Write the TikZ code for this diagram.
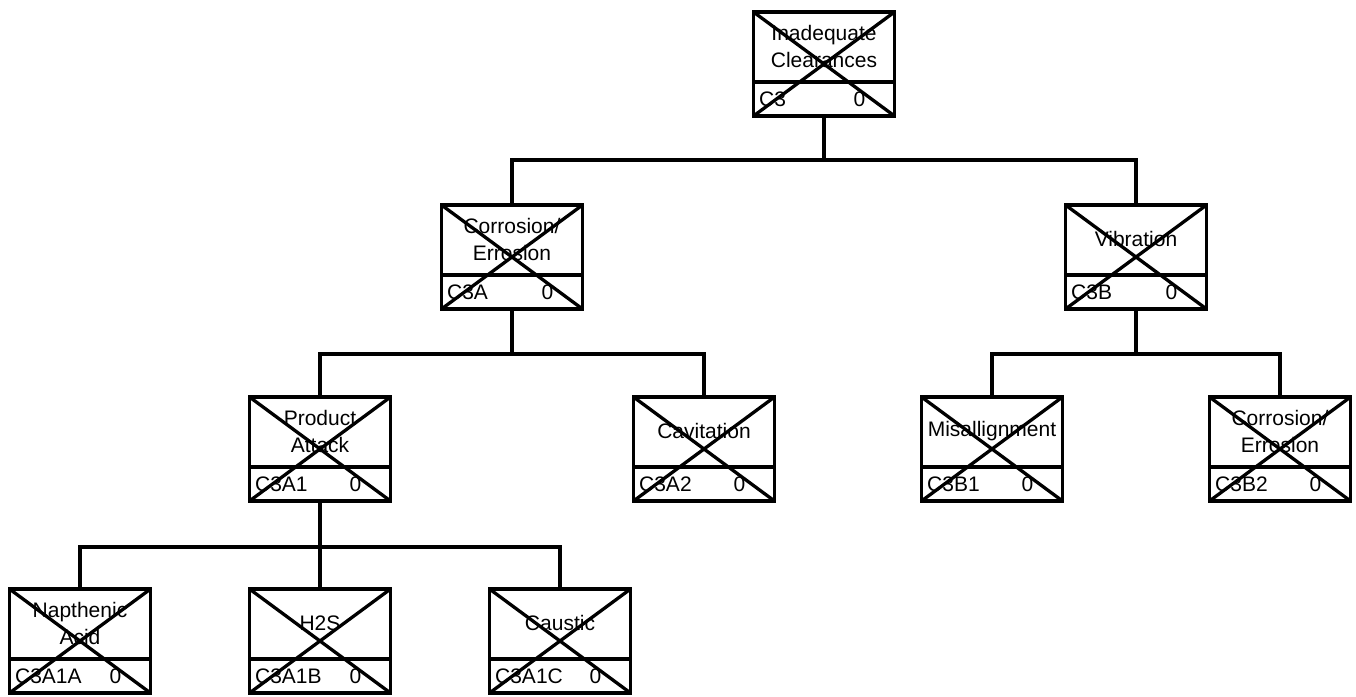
\documentclass[tikz,border=0pt]{standalone}
\usepackage{fontspec}
\setmainfont{Liberation Sans}

\begin{document}
\begin{tikzpicture}[
      x=1pt,
      y=-1pt,
      line width=3.3pt,
      eventbox/.style = {draw, rectangle, line width=3.8pt, outer sep=0pt,
          minimum width=141pt, minimum height=104pt, inner sep=0pt},
      title/.style = {align=center, inner sep=1pt,
          font=\fontsize{21}{27}\selectfont},
      code/.style = {inner sep=2pt, font=\fontsize{21}{26}\selectfont}
    ]
    \useasboundingbox (0,0) rectangle (1356,696);

    % boxes: name / x / y / title / code
    \foreach \n/\x/\y/\t/\c in {
        c3/824/64/{Inadequate\\Clearances}/C3,
        c3a/512/257/{Corrosion/\\Errosion}/C3A,
        c3b/1136/257/{Vibration}/C3B,
        c3a1/320/449/{Product\\Attack}/C3A1,
        c3a2/704/449/{Cavitation}/C3A2,
        c3b1/992/449/{Misallignment}/C3B1,
        c3b2/1280/449/{Corrosion/\\Errosion}/C3B2,
        c3a1a/80/641/{Napthenic\\Acid}/C3A1A,
        c3a1b/320/641/{H2S}/C3A1B,
        c3a1c/560/641/{Caustic}/C3A1C}
      {
        \node[eventbox] (\n) at (\x,\y) {};
        \node[title] (\n-t) at ([yshift=18]\n.center) {\t};
        \node[code, anchor=west] (\n-c) at ([xshift=2,yshift=17]\n.south west) {\c};
        \node[code] (\n-v) at ([xshift=-35,yshift=17]\n.south east) {0};
        \draw ([yshift=34]\n.south west) -- ([yshift=34]\n.south east);
        \draw (\n.north west) -- (\n.south east) (\n.south west) -- (\n.north east);
      }

    \draw (c3a.north) -- ++(0,-45) coordinate (j1) -| (c3b.north);
    \draw (c3.south) -- (c3.south |- j1);

    \draw (c3a1.north) -- ++(0,-43) coordinate (j2) -| (c3a2.north);
    \draw (c3a.south) -- (c3a.south |- j2);

    \draw (c3b1.north) -- ++(0,-43) coordinate (j3) -| (c3b2.north);
    \draw (c3b.south) -- (c3b.south |- j3);

    \draw (c3a1a.north) -- ++(0,-42) -| (c3a1c.north);
    \draw (c3a1.south) -- (c3a1b.north);
  \end{tikzpicture}
\end{document}
